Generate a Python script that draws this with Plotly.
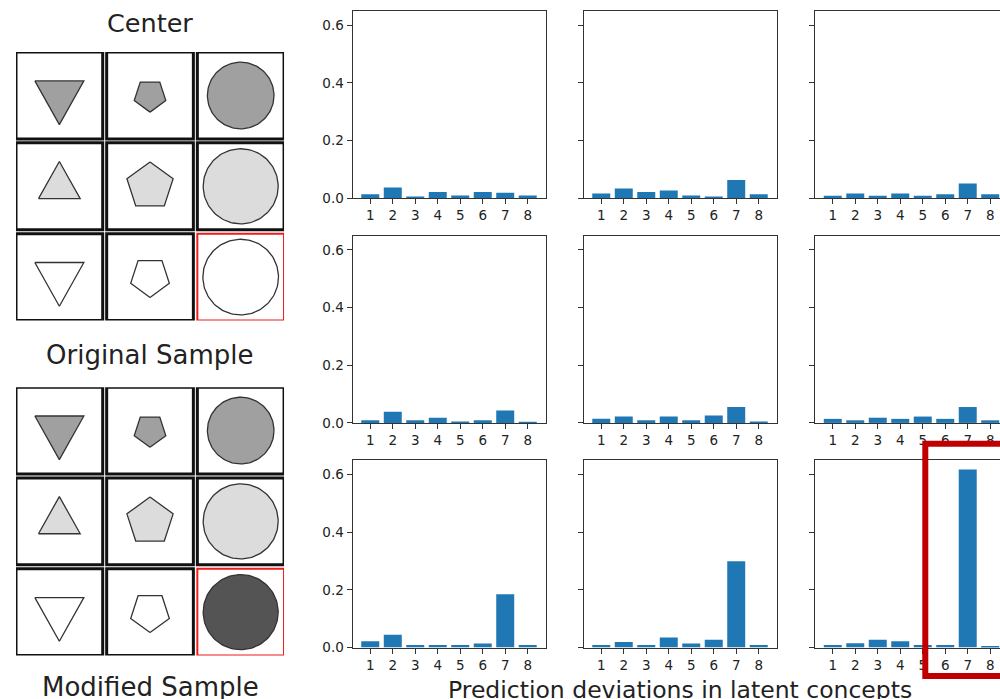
import numpy as np
import plotly.graph_objects as go

W, H = 1000, 699
H_FIG = 708  # figure height used for drawing (paper fractions follow H)

# ---------------- data ----------------
concepts = [1, 2, 3, 4, 5, 6, 7, 8]
dev_r1c1 = [0.014, 0.037, 0.006, 0.022, 0.010, 0.022, 0.019, 0.010]
dev_r1c2 = [0.017, 0.034, 0.022, 0.027, 0.010, 0.006, 0.063, 0.014]
dev_r1c3 = [0.009, 0.017, 0.009, 0.017, 0.009, 0.014, 0.051, 0.014]
dev_r2c1 = [0.009, 0.039, 0.009, 0.018, 0.005, 0.009, 0.043, 0.001]
dev_r2c2 = [0.014, 0.022, 0.009, 0.022, 0.009, 0.026, 0.055, 0.005]
dev_r2c3 = [0.014, 0.009, 0.018, 0.014, 0.022, 0.014, 0.055, 0.009]
dev_r3c1 = [0.022, 0.044, 0.009, 0.009, 0.009, 0.014, 0.185, 0.009]
dev_r3c2 = [0.009, 0.019, 0.009, 0.035, 0.014, 0.027, 0.299, 0.009]
dev_r3c3 = [0.009, 0.015, 0.027, 0.022, 0.009, 0.009, 0.617, 0.005]
panels = [dev_r1c1, dev_r1c2, dev_r1c3,
          dev_r2c1, dev_r2c2, dev_r2c3,
          dev_r3c1, dev_r3c2, dev_r3c3]
y_ticks = [0.0, 0.2, 0.4, 0.6]
x_label = "Prediction deviations in latent concepts"

# Raven-style matrix (shape kind, size, fill per row)
shape_kinds = [["tri_down", "pent_down", "circle"],
               ["tri_up", "pent_up", "circle"],
               ["tri_down", "pent_down", "circle"]]
shape_sizes = [[49, 16.6, 33.3],
               [41.7, 24.3, 37.5],
               [49, 20.3, 37.8]]
row_fills = ["#a0a0a0", "#dcdcdc", "#ffffff"]
modified_fill = "#545454"
modified_size = 37.5
matrix_titles = ["Center", "Original Sample", "Modified Sample"]

# ---------------- layout geometry ----------------
col_left = [352.5, 583.5, 815.0]
panel_w = 193.0
row_top = [11.0, 235.3, 459.6]
panel_h = 187.0
x_lo, x_hi = 0.21, 8.79
y_max = 0.649

BAR_COLOR = "#1f77b4"
AX_COLOR = "#333333"
TXT = "#222222"
FONT = "DejaVu Sans"

fig = go.Figure()
layout = dict(
    width=W, height=H_FIG, margin=dict(l=0, r=0, t=0, b=0),
    paper_bgcolor="white", plot_bgcolor="white", showlegend=False,
    font=dict(family=FONT, color=TXT),
    bargap=0.2,
)

def px(xp):
    return xp / W

def py(yp):
    return 1 - yp / H

for i, vals in enumerate(panels):
    r, c = divmod(i, 3)
    n = i + 1
    xa = "x" if n == 1 else f"x{n}"
    ya = "y" if n == 1 else f"y{n}"
    fig.add_trace(go.Bar(x=concepts, y=vals, xaxis=xa, yaxis=ya,
                         marker=dict(color=BAR_COLOR, line=dict(width=0)),
                         width=0.8, hoverinfo="skip"))
    x0 = col_left[c]
    x1 = x0 + panel_w
    rng = [x_lo, x_hi]
    if x1 > W:
        rng = [x_lo, x_lo + (W - x0) / panel_w * (x_hi - x_lo)]
        x1 = W
    xkey = "xaxis" if n == 1 else f"xaxis{n}"
    ykey = "yaxis" if n == 1 else f"yaxis{n}"
    layout[xkey] = dict(
        domain=[px(x0), px(x1)], range=rng, anchor=ya,
        tickvals=concepts, ticktext=[str(v) for v in concepts],
        ticks="outside", ticklen=5, tickwidth=1, tickcolor=AX_COLOR,
        showline=True, linecolor=AX_COLOR, linewidth=1, mirror=True,
        showgrid=False, zeroline=False,
        tickfont=dict(size=13.5, color=TXT, family=FONT), fixedrange=True)
    layout[ykey] = dict(
        domain=[py(row_top[r] + panel_h), py(row_top[r])], range=[0, y_max],
        anchor=xa, tickvals=y_ticks, ticktext=[f"{v:.1f}" for v in y_ticks],
        showticklabels=(c == 0),
        ticks="outside", ticklen=5, tickwidth=1, tickcolor=AX_COLOR,
        showline=True, linecolor=AX_COLOR, linewidth=1, mirror=(c != 2),
        showgrid=False, zeroline=False,
        tickfont=dict(size=13.5, color=TXT, family=FONT), fixedrange=True)

# ---------------- matrices ----------------
cell = 86.7
pitch = 90.67
grid_span = 2 * pitch + cell
grid_left = 16.0
grid_tops = [52.0, 386.6]

def shape_xy(kind, size, cx, cy):
    if kind == "circle":
        t = np.linspace(0, 2 * np.pi, 121)
        return cx + size * np.cos(t), cy + size * np.sin(t)
    if kind.startswith("pent"):
        start = np.pi / 2 if kind == "pent_down" else -np.pi / 2
        a = start + np.arange(6) * 2 * np.pi / 5
        return cx + size * np.cos(a), cy + size * np.sin(a)
    w = size
    h = size * 0.89
    if kind == "tri_down":
        xs = [cx - w / 2, cx + w / 2, cx, cx - w / 2]
        ys = [cy - h / 3, cy - h / 3, cy + 2 * h / 3, cy - h / 3]
    else:
        xs = [cx - w / 2, cx + w / 2, cx, cx - w / 2]
        ys = [cy + h / 3, cy + h / 3, cy - 2 * h / 3, cy + h / 3]
    return np.array(xs), np.array(ys)

shapes = []
for g, top in enumerate(grid_tops):
    n = 10 + g
    xa, ya = f"x{n}", f"y{n}"
    layout[f"xaxis{n}"] = dict(domain=[px(grid_left), px(grid_left + grid_span)],
                               range=[0, grid_span], visible=False, anchor=ya,
                               fixedrange=True)
    layout[f"yaxis{n}"] = dict(domain=[py(top + grid_span), py(top)],
                               range=[grid_span, 0], visible=False, anchor=xa,
                               fixedrange=True)
    for r in range(3):
        for c in range(3):
            x0 = c * pitch
            y0 = r * pitch
            is_answer = (r == 2 and c == 2)
            shapes.append(dict(type="rect", xref=xa, yref=ya,
                               x0=x0, x1=x0 + cell, y0=y0, y1=y0 + cell,
                               line=dict(color="#ee1c1c" if is_answer else "#111111",
                                         width=2 if is_answer else 3),
                               fillcolor="rgba(0,0,0,0)", layer="above"))
            kind = shape_kinds[r][c]
            size = shape_sizes[r][c]
            fill = row_fills[r]
            if g == 1 and is_answer:
                fill = modified_fill
                size = modified_size
            xs, ys = shape_xy(kind, size, x0 + cell / 2, y0 + cell / 2)
            fig.add_trace(go.Scatter(x=xs, y=ys, xaxis=xa, yaxis=ya, mode="lines",
                                     fill="toself", fillcolor=fill,
                                     line=dict(color="#333333", width=1.3),
                                     hoverinfo="skip"))

# red highlight box
shapes.append(dict(type="rect", xref="paper", yref="paper",
                   x0=px(925.3), x1=px(1010), y0=py(675), y1=py(443),
                   line=dict(color="#c00000", width=6), fillcolor="rgba(0,0,0,0)",
                   layer="above"))
layout["shapes"] = shapes

annotations = [
    dict(text=matrix_titles[0], x=px(150), y=py(22.5), font=dict(size=25.5)),
    dict(text=matrix_titles[1], x=px(150), y=py(354), font=dict(size=26)),
    dict(text=matrix_titles[2], x=px(150), y=py(686), font=dict(size=26)),
    dict(text=x_label, x=px(680), y=py(689.5), font=dict(size=23.5)),
]
for a in annotations:
    a.update(xref="paper", yref="paper", showarrow=False,
             xanchor="center", yanchor="middle")
    a["font"].update(family=FONT, color=TXT)
layout["annotations"] = annotations

fig.update_layout(**layout)
fig.write_html("out.html", config={"displayModeBar": False},
               post_script="document.body.style.margin='0';"
                           "document.body.style.overflow='hidden';")
